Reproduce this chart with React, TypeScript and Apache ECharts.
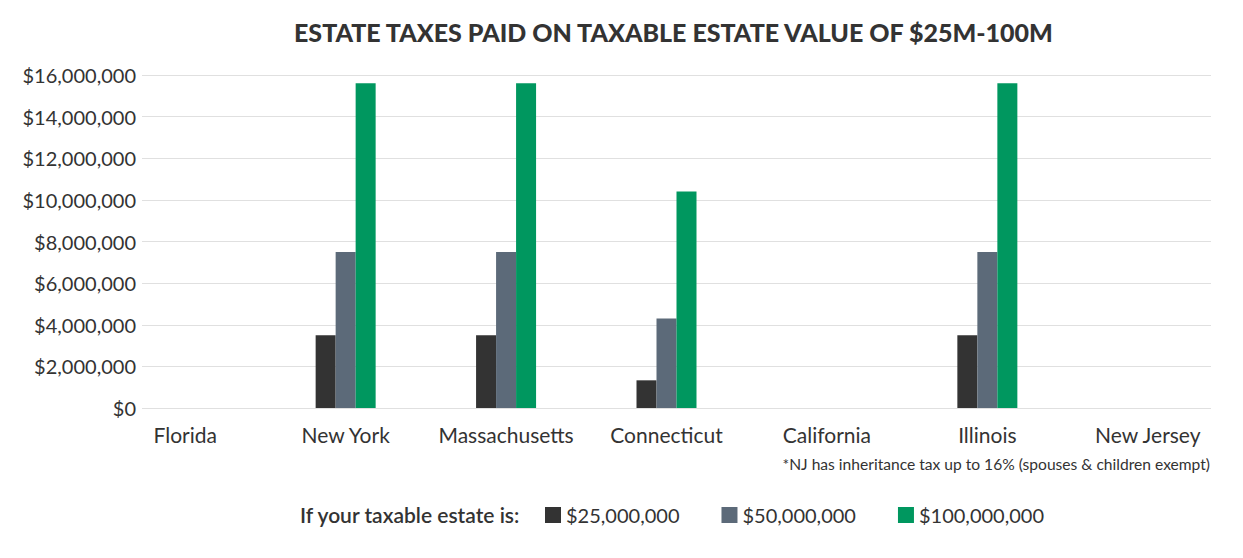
import React, { useEffect, useRef } from "react";
import * as echarts from "echarts";

const categories = ["Florida", "New York", "Massachusetts", "Connecticut", "California", "Illinois", "New Jersey"];
const seriesNames = ["$25,000,000", "$50,000,000", "$100,000,000"];
const values25M = [0, 3500000, 3500000, 1330000, 0, 3500000, 0];
const values50M = [0, 7500000, 7500000, 4300000, 0, 7500000, 0];
const values100M = [0, 15600000, 15600000, 10400000, 0, 15600000, 0];
const colors = ["#333333", "#5c6a79", "#00975f"];
const yMax = 16000000;
const yInterval = 2000000;

const FONT = "Lato";
const TEXT = "#333333";

export default function App() {
  const ref = useRef<HTMLDivElement>(null);
  useEffect(() => {
    document.body.style.margin = "0";
    const chart = echarts.init(ref.current!, null, { renderer: "svg" });
    const fmt = (v: number) => "$" + Math.round(v).toLocaleString("en-US");
    chart.setOption({
      animation: false,
      backgroundColor: "#ffffff",
      title: {
        text: "ESTATE TAXES PAID ON TAXABLE ESTATE VALUE OF $25M-100M",
        left: 294,
        top: 19,
        padding: 0,
        textStyle: { fontFamily: FONT, fontWeight: 900, fontSize: 25, color: TEXT },
      },
      grid: [
        { left: 105, right: 15, top: 75, bottom: 150 },
        { left: 142, right: 32, top: 75, bottom: 150 },
      ],
      xAxis: [
        {
          type: "category",
          gridIndex: 0,
          data: categories,
          axisLine: { show: false },
          axisTick: { show: false },
          axisLabel: { fontFamily: FONT, fontSize: 21, color: TEXT, margin: 16, interval: 0 },
        },
        { type: "category", gridIndex: 1, data: categories, show: false },
      ],
      yAxis: [
        { type: "value", gridIndex: 0, min: 0, max: yMax, interval: yInterval, show: false },
        {
          type: "value",
          gridIndex: 1,
          min: 0,
          max: yMax,
          interval: yInterval,
          axisLine: { show: false },
          axisTick: { show: false },
          splitLine: { lineStyle: { color: "#e0e0e0", width: 1 } },
          axisLabel: { fontFamily: FONT, fontSize: 20, color: TEXT, margin: 6, formatter: fmt },
        },
      ],
      legend: {
        left: 545,
        top: 505,
        padding: 0,
        itemWidth: 16,
        itemHeight: 16,
        itemGap: 42,
        icon: "rect",
        data: seriesNames,
        textStyle: { fontFamily: FONT, fontSize: 20, color: TEXT },
      },
      graphic: [
        {
          type: "text",
          left: 300,
          top: 504,
          style: { text: "If your taxable estate is:", fontFamily: FONT, fontSize: 21, fontWeight: 600, fill: TEXT },
        },
        {
          type: "text",
          right: 33,
          top: 456,
          style: { text: "*NJ has inheritance tax up to 16% (spouses & children exempt)", fontFamily: FONT, fontSize: 15.6, fill: TEXT },
        },
      ],
      series: [values25M, values50M, values100M].map((d, i) => ({
        name: seriesNames[i],
        type: "bar",
        xAxisIndex: 0,
        yAxisIndex: 0,
        data: d,
        barWidth: 20,
        barGap: "0%",
        itemStyle: { color: colors[i] },
      })),
    });
    return () => chart.dispose();
  }, []);
  return <div ref={ref} style={{ width: 1243, height: 558 }} />;
}
